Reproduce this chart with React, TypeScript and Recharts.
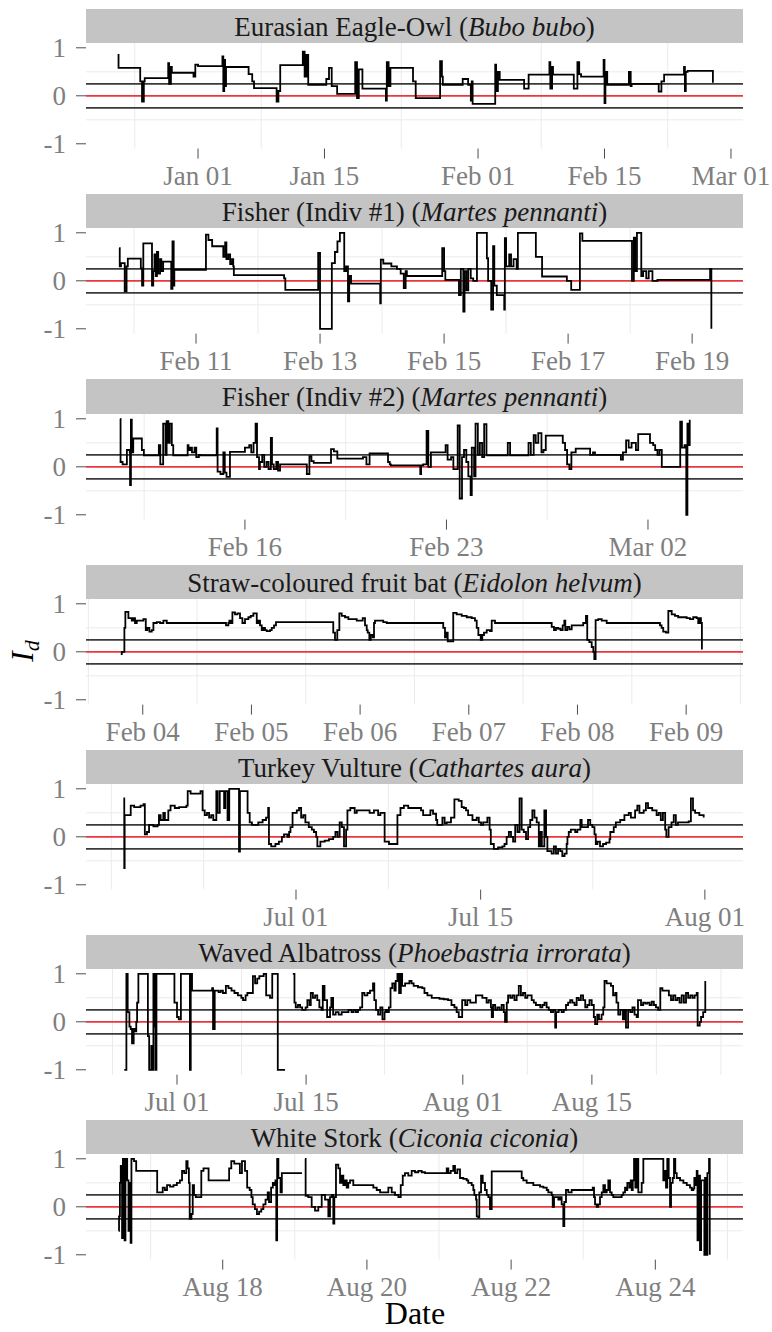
import React from 'react';
import { LineChart, Line, XAxis, YAxis, ReferenceLine } from 'recharts';

const FONT = '"Liberation Serif", "Times New Roman", serif';

type Pt = [number, number | null];

// Eurasian Eagle-Owl, x = days from Jan 01
const owlTicks = [0, 14, 31, 45, 59];
const owlLabels = ['Jan 01', 'Jan 15', 'Feb 01', 'Feb 15', 'Mar 01'];
const owlMinor = [-7, 7, 22.5, 38, 52];
const owlPoints: Pt[] = [
  [-8.9, 0.85], [-8.8, 0.58], [-6.4, 0.3], [-6.2, -0.12], [-6.0, 0.3], [-5.9, 0.37], [-3.3, 0.68], [-3.2, 0.25],
  [-3.0, 0.6], [-2.9, 0.48], [-0.5, 0.4], [-0.3, 0.65], [0, 0.62], [2.7, 0.82], [2.8, 0.1], [2.9, 0.75], [3.0, 0.2],
  [3.1, 0.6], [5.6, 0.45], [6.0, 0.3], [6.2, 0.16], [8.7, -0.12], [8.9, 0.1], [9.1, 0.64], [11.6, 0.92], [11.8, 0.4],
  [12.0, 0.85], [12.2, 0.23], [14.2, 0.35], [14.5, 0.58], [14.8, 0.2], [15.4, 0.04], [17.4, 0.7], [17.6, -0.05],
  [17.8, 0.55], [18.2, 0.15], [20.8, -0.1], [20.9, 0.7], [21.1, 0.2], [21.3, 0.58], [23.8, 0.3], [24.1, -0.05],
  [26.8, 0.72], [27.0, 0.4], [27.1, 0.23], [29.3, 0.35], [29.9, 0.23], [30.2, -0.1], [30.3, 0.3], [30.4, -0.17],
  [32.9, 0.65], [33.0, 0.1], [33.2, 0.5], [33.4, 0.33], [36.1, 0.15], [36.6, 0.44], [38.9, 0.7], [39.0, 0.15],
  [39.2, 0.6], [39.3, 0.44], [41.6, 0.15], [42.0, 0.7], [42.2, 0.45], [42.4, 0.4], [44.9, 0.75], [45.0, -0.15],
  [45.1, 0.5], [45.3, 0.23], [47.7, 0.5], [47.9, 0.2], [48.0, 0.25], [51.0, 0.09], [51.3, 0.3], [51.6, 0.44],
  [53.8, 0.6], [53.9, 0.1], [54.0, 0.5], [54.2, 0.52], [57.0, 0.27],
];

// Fisher #1, x = day of February
const fisher1Ticks = [11, 13, 15, 17, 19];
const fisher1Labels = ['Feb 11', 'Feb 13', 'Feb 15', 'Feb 17', 'Feb 19'];
const fisher1Minor = [10, 12, 14, 16, 18];
const fisher1Points: Pt[] = [
  [9.76, 0.68], [9.77, 0.3], [9.79, 0.37], [9.85, -0.22], [9.88, 0.3], [9.9, 0.46], [10.11, 0.26], [10.13, -0.1],
  [10.15, 0.78], [10.29, -0.1], [10.31, 0.2], [10.33, 0.55], [10.35, 0.1], [10.37, 0.6], [10.39, 0.15], [10.42, 0.45],
  [10.44, 0.2], [10.47, 0.4], [10.6, -0.17], [10.62, 0.82], [10.64, -0.1], [10.65, 0.23], [11.16, 0.96], [11.2, 0.85],
  [11.26, 0.72], [11.44, 0.5], [11.47, 0.8], [11.49, 0.45], [11.52, 0.55], [11.55, 0.35], [11.58, 0.45], [11.6, 0.3],
  [11.61, 0.12], [12.42, 0.05], [12.44, -0.19], [12.97, 0.58], [13.0, -1.0], [13.19, 0.37], [13.24, 0.6], [13.28, 0.82],
  [13.32, 1.0], [13.39, 0.2], [13.42, 0.3], [13.45, -0.43], [13.47, 0.1], [13.5, -0.06], [13.97, -0.47], [13.98, 0.44],
  [14.02, 0.36], [14.15, 0.3], [14.24, 0.25], [14.3, 0.15], [14.35, -0.15], [14.38, 0.2], [14.4, 0.1], [14.97, 0.68],
  [15.0, 0.2], [15.02, 0.02], [15.24, -0.3], [15.27, 0.25], [15.31, -0.64], [15.33, 0.2], [15.36, -0.2], [15.39, 0.25],
  [15.43, 0.05], [15.47, 0.0], [15.53, 1.0], [15.69, 0.47], [15.71, 0.0], [15.76, -0.6], [15.79, 0.72], [15.81, -0.1],
  [15.85, -0.3], [15.97, -0.6], [15.98, 0.89], [16.0, 0.3], [16.05, 0.55], [16.08, 0.3], [16.12, 0.45], [16.17, 0.25],
  [16.19, 1.0], [16.48, 0.5], [16.58, 0.09], [16.98, 0.0], [17.05, -0.19], [17.19, 0.99], [17.23, 0.83], [18.03, 0.0],
  [18.06, 0.9], [18.08, 0.2], [18.11, 1.0], [18.18, 0.1], [18.21, 0.2], [18.26, 0.05], [18.3, 0.2], [18.36, 0.0],
  [18.44, 0.02], [19.29, 0.25], [19.31, -1.0],
];

// Fisher #2, x = days from Feb 16
const fisher2Ticks = [0, 7, 14];
const fisher2Labels = ['Feb 16', 'Feb 23', 'Mar 02'];
const fisher2Minor = [-3.5, 3.5, 10.5];
const fisher2Points: Pt[] = [
  [-4.33, 1.0], [-4.32, 0.1], [-4.25, 0.05], [-4.1, 0.35], [-4.0, 0.3], [-3.99, -0.38], [-3.96, 0.98], [-3.93, 0.3],
  [-3.88, 0.59], [-3.58, 0.35], [-3.51, 0.24], [-2.99, 0.45], [-2.94, 0.05], [-2.84, 0.9], [-2.76, 0.25], [-2.72, 0.95],
  [-2.66, 0.5], [-2.61, 0.9], [-2.54, 0.45], [-2.49, 0.24], [-1.99, 0.45], [-1.96, 0.35], [-1.9, 0.4], [-1.84, 0.3],
  [-1.75, 0.4], [-1.69, 0.2], [-1.6, 0.25], [-1.54, 0.24], [-0.98, 0.8], [-0.95, -0.1], [-0.85, -0.15], [-0.75, 0.3],
  [-0.7, -0.12], [-0.64, -0.21], [-0.52, 0.31], [0, 0.4], [0.15, 0.45], [0.22, 0.3], [0.3, 0.5], [0.37, 0.9],
  [0.42, 0.2], [0.49, -0.05], [0.52, 0.1], [0.6, 0.25], [0.67, 0.0], [0.75, 0.1], [0.82, -0.05], [0.9, 0.6],
  [0.94, 0.05], [1.0, -0.05], [1.09, 0.1], [1.15, -0.08], [1.22, 0.05], [2.15, -0.15], [2.24, 0.22], [2.31, 0.12],
  [2.39, 0.08], [2.99, 0.37], [3.09, 0.32], [3.21, 0.17], [4.1, 0.2], [4.22, 0.05], [4.33, 0.28], [4.97, 0.1],
  [5.03, 0.05], [5.07, 0.03], [6.09, -0.15], [6.12, 0.03], [6.19, 0.05], [6.31, 0.75], [6.37, 0.0], [6.46, 0.3],
  [6.97, 0.45], [7.04, 0.15], [7.16, 0.2], [7.24, -0.05], [7.39, 0.86], [7.46, -0.66], [7.54, 0.2], [7.61, 0.35],
  [7.69, 0.1], [7.76, -0.2], [7.84, -0.59], [7.88, 0.4], [7.96, -0.2], [8.01, 0.9], [8.09, 0.25], [8.16, 0.5],
  [8.24, 0.2], [8.31, 0.89], [8.39, 0.24], [9.13, 0.5], [9.21, 0.24], [9.85, 0.5], [9.93, 0.25], [10.03, 0.66],
  [10.1, 0.5], [10.19, 0.7], [10.3, 0.3], [10.37, 0.35], [10.45, 0.65], [11.04, 0.5], [11.12, 0.35], [11.19, 0.05],
  [11.27, -0.05], [11.34, 0.3], [11.49, 0.38], [11.99, 0.25], [12.09, 0.3], [12.16, 0.25], [13.06, 0.15], [13.13, 0.3],
  [13.24, 0.55], [13.33, 0.4], [13.43, 0.5], [13.58, 0.35], [13.66, 0.68], [14.07, 0.5], [14.18, 0.45], [14.25, 0.35],
  [14.33, 0.25], [14.4, 0.35], [14.48, 0.0], [15.12, 0.94], [15.18, 0.4], [15.27, 0.45], [15.33, -1.0], [15.37, 0.9],
  [15.42, 0.45], [15.45, 0.98],
];

// Straw-coloured fruit bat, x = day of February
const batTicks = [4, 5, 6, 7, 8, 9];
const batLabels = ['Feb 04', 'Feb 05', 'Feb 06', 'Feb 07', 'Feb 08', 'Feb 09'];
const batMinor = [3.5, 4.5, 5.5, 6.5, 7.5, 8.5, 9.5];
const batPoints: Pt[] = [
  [3.798, -0.05], [3.807, 0.0], [3.831, 0.5], [3.84, 0.83], [3.868, 0.7], [3.899, 0.65], [3.914, 0.7], [3.929, 0.6],
  [3.945, 0.65], [4.006, 0.68], [4.028, 0.45], [4.042, 0.5], [4.061, 0.42], [4.083, 0.45], [4.098, 0.6], [4.129, 0.62],
  [4.159, 0.6], [4.19, 0.65], [4.221, 0.6], [4.766, 0.55], [4.788, 0.6], [4.797, 0.65], [4.812, 0.6], [4.825, 0.82],
  [4.849, 0.78], [4.871, 0.8], [4.895, 0.7], [4.917, 0.6], [4.941, 0.68], [4.972, 0.72], [4.994, 0.75], [5.018, 0.8],
  [5.049, 0.6], [5.064, 0.65], [5.079, 0.55], [5.095, 0.45], [5.11, 0.5], [5.125, 0.45], [5.141, 0.43], [5.171, 0.45],
  [5.187, 0.5], [5.208, 0.55], [5.226, 0.62], [5.753, 0.4], [5.769, 0.25], [5.79, 0.45], [5.809, 0.8], [5.831, 0.75],
  [5.861, 0.72], [5.892, 0.68], [5.969, 0.65], [6.024, 0.7], [6.045, 0.55], [6.061, 0.45], [6.07, 0.4], [6.085, 0.25],
  [6.098, 0.35], [6.116, 0.3], [6.128, 0.6], [6.137, 0.65], [6.213, 0.62], [6.245, 0.6], [6.765, 0.5], [6.781, 0.3],
  [6.797, 0.4], [6.806, 0.22], [6.857, 0.81], [6.888, 0.78], [6.935, 0.75], [6.981, 0.72], [7.027, 0.7], [7.057, 0.65],
  [7.073, 0.5], [7.088, 0.35], [7.11, 0.25], [7.124, 0.35], [7.14, 0.4], [7.165, 0.45], [7.195, 0.43], [7.211, 0.65],
  [7.241, 0.6], [7.763, 0.52], [7.784, 0.45], [7.802, 0.5], [7.823, 0.48], [7.845, 0.45], [7.864, 0.55], [7.879, 0.65],
  [7.888, 0.45], [7.906, 0.52], [7.925, 0.47], [7.947, 0.55], [8.053, 0.6], [8.078, 0.75], [8.09, 0.25], [8.109, 0.2],
  [8.131, 0.1], [8.146, 0.0], [8.155, -0.15], [8.167, 0.66], [8.191, 0.68], [8.223, 0.65], [8.269, 0.6], [8.759, 0.55],
  [8.774, 0.5], [8.789, 0.42], [8.814, 0.4], [8.836, 0.85], [8.867, 0.78], [8.897, 0.75], [8.927, 0.72], [9.005, 0.7],
  [9.035, 0.68], [9.065, 0.72], [9.097, 0.7], [9.111, 0.6], [9.127, 0.7], [9.136, 0.6], [9.145, 0.05],
];

// Turkey Vulture, x = days from Jul 01
const vultureTicks = [0, 14, 31];
const vultureLabels = ['Jul 01', 'Jul 15', 'Aug 01'];
const vultureMinor = [-14, -7, 7, 22.5];
const vulturePoints: Pt[] = [
  [-13.08, 0.8], [-13.02, -0.65], [-12.99, 0.45], [-12.53, 0.65], [-12.27, 0.62], [-11.79, 0.65], [-11.56, 0.68],
  [-11.46, 0.05], [-11.3, 0.1], [-11.14, 0.25], [-10.81, 0.22], [-10.49, 0.25], [-10.39, 0.45], [-10.26, 0.35],
  [-10.06, 0.5], [-9.94, 0.35], [-9.68, 0.55], [-9.51, 0.65], [-9.19, 0.6], [-8.86, 0.62], [-8.31, 0.65], [-8.21, 0.95],
  [-7.99, 0.9], [-7.24, 0.95], [-7.08, 0.55], [-6.92, 0.45], [-6.75, 0.5], [-6.59, 0.4], [-6.43, 0.45], [-6.27, 0.35],
  [-6.04, 0.95], [-5.94, 0.5], [-5.78, 0.95], [-5.45, 0.6], [-5.36, 0.95], [-5.19, 0.35], [-5.06, 1.0], [-4.32, -0.31],
  [-4.25, 0.95], [-3.67, 0.5], [-3.51, 0.3], [-3.34, 0.25], [-2.86, 0.3], [-2.53, 0.35], [-2.27, 0.4], [-2.11, 0.6],
  [-2.05, -0.15], [-1.88, -0.2], [-1.56, -0.15], [-1.3, -0.1], [-1.07, 0.0], [-0.91, 0.05], [-0.65, 0.0], [-0.52, 0.1],
  [-0.42, 0.2], [-0.26, 0.5], [0.06, 0.55], [0.23, 0.6], [0.39, 0.4], [0.55, 0.45], [0.71, 0.3], [0.97, 0.2],
  [1.2, 0.15], [1.36, 0.1], [1.53, 0.0], [1.62, -0.2], [1.85, -0.1], [2.18, -0.08], [2.5, -0.05], [2.82, 0.0],
  [2.99, 0.1], [3.15, 0.0], [3.31, 0.3], [3.47, 0.2], [3.64, -0.2], [3.8, 0.15], [3.9, 0.55], [4.12, 0.6], [4.45, 0.5],
  [4.61, 0.55], [5.58, 0.5], [5.91, 0.55], [6.23, 0.45], [6.4, 0.5], [6.72, -0.1], [7.05, -0.15], [7.69, 0.45],
  [7.92, 0.6], [8.18, 0.65], [8.51, 0.6], [9.48, 0.55], [9.64, 0.45], [10.19, 0.55], [10.39, 0.48], [10.62, 0.35],
  [10.71, 0.25], [11.1, 0.4], [11.27, 0.28], [11.43, 0.3], [11.75, 0.4], [12.01, 0.78], [12.34, 0.75], [12.56, 0.62],
  [12.73, 0.6], [12.89, 0.55], [13.05, 0.45], [13.38, 0.35], [13.7, 0.4], [13.86, 0.3], [14.03, 0.25], [14.19, 0.3],
  [14.51, 0.4], [14.68, 0.15], [14.77, -0.15], [15.0, -0.25], [15.32, -0.22], [15.65, -0.2], [15.81, -0.15],
  [15.97, 0.0], [16.14, 0.1], [16.3, 0.0], [16.46, -0.1], [16.62, 0.25], [16.79, 0.1], [16.95, 0.8], [17.11, 0.15],
  [17.27, 0.1], [17.44, -0.05], [17.6, 0.2], [17.76, 0.35], [17.92, 0.55], [18.08, 0.4], [18.25, 0.3], [18.41, -0.2],
  [18.51, 0.1], [18.64, -0.2], [18.83, 0.55], [18.96, 0.0], [19.06, -0.3], [19.38, -0.35], [19.55, -0.2],
  [19.71, -0.35], [19.87, -0.25], [20.03, -0.3], [20.19, -0.4], [20.36, -0.35], [20.52, -0.15], [20.58, 0.0],
  [20.68, 0.1], [20.84, 0.15], [21.17, 0.1], [21.33, 0.15], [21.56, 0.35], [21.66, 0.2], [22.14, 0.35], [22.31, 0.25],
  [22.47, 0.2], [22.63, 0.05], [22.73, -0.15], [22.86, -0.1], [23.05, -0.2], [23.28, -0.15], [23.51, -0.12],
  [23.77, -0.05], [23.83, 0.1], [24.09, 0.2], [24.25, 0.3], [24.58, 0.35], [24.9, 0.45], [25.23, 0.5], [25.39, 0.4],
  [25.71, 0.55], [25.88, 0.65], [26.04, 0.5], [26.36, 0.55], [26.53, 0.7], [26.69, 0.6], [27.01, 0.55], [27.34, 0.45],
  [27.5, 0.5], [27.66, 0.35], [27.82, 0.5], [27.99, 0.15], [28.08, 0.0], [28.25, 0.2], [28.47, 0.3], [28.64, 0.45],
  [28.8, 0.25], [28.96, 0.3], [29.77, 0.32], [29.94, 0.8], [30.1, 0.55], [30.26, 0.5], [30.58, 0.45], [30.91, 0.4],
];

// Waved Albatross, x = days from Jul 01
const albatrossTicks = [0, 14, 31, 45];
const albatrossLabels = ['Jul 01', 'Jul 15', 'Aug 01', 'Aug 15'];
const albatrossMinor = [-7, 7, 22.5, 38, 52, 59];
const albatrossPoints: Pt[] = [
  [-5.72, -1.0], [-5.49, 1.0], [-5.35, 0.2], [-5.16, -0.1], [-5.02, -0.15], [-4.88, -0.45], [-4.7, -0.15],
  [-4.56, -0.2], [-4.42, 0.0], [-4.33, 0.4], [-4.19, 1.0], [-3.16, -0.3], [-3.02, -1.0], [-2.79, -0.5], [-2.7, -1.0],
  [-2.56, 1.0], [-2.42, -0.1], [-2.33, -1.0], [-2.23, 1.0], [-0.28, 0.4], [0, 0.1], [0.19, 0.05], [0.42, 1.0],
  [1.4, -1.0], [1.49, 1.0], [1.63, 0.65], [3.81, 0.7], [3.91, -0.15], [4.09, 0.65], [4.51, 0.62], [4.74, 0.65],
  [4.98, 0.6], [5.3, 0.75], [5.58, 0.7], [5.91, 0.65], [6.23, 0.6], [6.6, 0.55], [6.98, 0.5], [7.16, 0.45],
  [7.44, 0.55], [7.63, 0.6], [8.23, 0.95], [8.47, 0.8], [8.7, 0.9], [8.93, 0.95], [9.4, 1.0], [9.67, 0.55],
  [10.09, 0.5], [10.33, 1.0], [10.93, -1.0], [11.72, -1.0], [12.0, null], [12.56, 1.0], [12.74, 0.4], [12.88, 0.3],
  [13.12, 0.35], [13.35, 0.3], [13.58, 0.25], [13.95, 0.3], [14.14, 0.45], [14.37, 0.35], [14.51, 0.6], [14.74, 0.5],
  [14.98, 0.55], [15.21, 0.45], [15.44, 0.3], [15.67, 0.25], [15.81, 0.75], [16.0, 0.45], [16.28, 0.1], [16.6, 0.3],
  [16.74, 0.5], [16.93, 0.15], [17.21, 0.2], [17.53, 0.15], [17.86, 0.2], [18.6, 0.25], [18.93, 0.2], [19.16, 0.25],
  [19.4, 0.2], [19.63, 0.25], [19.86, 0.3], [20.09, 0.6], [20.33, 0.55], [20.65, 0.6], [20.93, 0.65], [21.26, 0.8],
  [21.4, 0.45], [21.58, 0.25], [21.81, 0.15], [22.05, 0.3], [22.28, 0.05], [22.51, 0.2], [22.65, 0.25], [22.79, 0.2],
  [22.98, 0.3], [23.16, 0.7], [23.35, 0.8], [23.58, 0.65], [23.72, 0.85], [23.91, 1.0], [24.09, 0.6], [24.28, 1.0],
  [24.42, 0.75], [24.74, 0.8], [25.21, 0.85], [25.44, 0.8], [25.67, 0.75], [26.14, 0.72], [26.6, 0.7], [26.84, 0.6],
  [27.16, 0.55], [27.63, 0.5], [28.47, 0.48], [28.93, 0.47], [29.4, 0.45], [29.77, 0.35], [30.09, 0.3], [30.33, 0.2],
  [30.56, 0.1], [30.93, 0.45], [31.26, 0.35], [31.49, 0.45], [31.81, 0.4], [32.42, 0.55], [33.12, 0.5], [33.58, 0.4],
  [33.81, 0.45], [34.05, 0.3], [34.14, 0.1], [34.28, 0.35], [34.51, 0.25], [34.74, 0.3], [34.98, 0.25], [35.21, 0.35],
  [35.44, 0.2], [35.58, 0.0], [35.77, 0.4], [35.91, 0.55], [36.14, 0.5], [36.37, 0.55], [36.6, 0.45], [36.84, 0.55],
  [37.07, 0.75], [37.3, 0.55], [37.53, 0.6], [37.77, 0.5], [38.0, 0.55], [38.47, 0.45], [38.7, 0.4], [38.93, 0.35],
  [39.4, 0.3], [39.63, 0.35], [39.86, 0.4], [40.09, 0.3], [40.33, 0.25], [40.56, 0.2], [40.79, 0.25], [41.02, -0.12],
  [41.12, 0.2], [41.4, 0.25], [41.72, 0.2], [41.95, 0.25], [42.19, 0.35], [42.42, 0.4], [42.65, 0.45], [42.88, 0.4],
  [43.12, 0.35], [43.35, 0.5], [43.58, 0.45], [43.81, 0.55], [44.05, 0.45], [44.28, 0.3], [44.51, 0.35], [44.74, 0.45],
  [44.98, 0.35], [45.21, 0.1], [45.35, -0.05], [45.58, 0.15], [45.77, 0.05], [46.05, 0.15], [46.23, 0.3], [46.37, 0.85],
  [46.6, 0.8], [47.07, 0.75], [47.3, 0.55], [47.53, 0.6], [47.67, 0.4], [47.86, 0.15], [48.09, 0.25], [48.37, 0.05],
  [48.56, 0.25], [48.7, -0.12], [48.93, 0.25], [49.16, 0.2], [49.4, 0.3], [49.63, 0.15], [49.86, 0.1], [50.0, 0.45],
  [50.33, 0.35], [50.56, 0.4], [50.79, 0.38], [51.02, 0.4], [51.26, 0.35], [51.49, 0.42], [51.72, 0.35], [51.95, 0.3],
  [52.19, 0.25], [52.42, 0.7], [52.65, 0.65], [53.35, 0.55], [53.58, 0.45], [53.81, 0.55], [54.05, 0.45], [54.28, 0.5],
  [54.51, 0.4], [54.74, 0.55], [54.98, 0.4], [55.21, 0.6], [55.44, 0.5], [55.67, 0.55], [55.91, 0.5], [56.14, 0.55],
  [56.37, 0.6], [56.47, -0.08], [56.7, 0.0], [56.84, 0.1], [57.07, 0.2], [57.3, 0.85],
];

// White Stork, x = day of August
const storkTicks = [18, 20, 22, 24];
const storkLabels = ['Aug 18', 'Aug 20', 'Aug 22', 'Aug 24'];
const storkMinor = [17, 19, 21, 23, 25];
const storkPoints: Pt[] = [
  [16.556, -0.5], [16.562, -0.2], [16.574, 0.5], [16.586, 0.85], [16.604, -0.65], [16.616, 1.0], [16.627, 0.5],
  [16.639, -0.7], [16.651, 1.0], [16.675, 0.55], [16.693, -0.5], [16.711, 0.5], [16.723, -0.75], [16.734, 1.0],
  [16.77, 0.95], [16.8, 0.75], [17.091, 0.3], [17.168, 0.4], [17.198, 0.35], [17.228, 0.45], [17.269, 0.42],
  [17.317, 0.45], [17.364, 0.5], [17.406, 0.55], [17.436, 0.75], [17.465, 0.7], [17.495, 0.95], [17.513, 0.8],
  [17.531, 0.5], [17.542, -0.25], [17.566, -0.15], [17.584, 0.45], [17.602, 0.25], [17.626, 0.2], [17.703, 0.75],
  [17.733, 0.8], [17.804, 0.55], [18.089, 0.8], [18.119, 0.95], [18.16, 0.9], [18.238, 0.7], [18.267, 0.95],
  [18.309, 0.75], [18.339, 0.4], [18.374, 0.35], [18.398, 0.2], [18.416, 0.05], [18.446, -0.05], [18.475, -0.15],
  [18.505, -0.1], [18.535, -0.05], [18.564, 0.05], [18.594, 0.15], [18.624, 0.3], [18.642, 0.1], [18.671, 0.4],
  [18.695, 0.5], [18.713, 0.45], [18.731, 0.55], [18.743, -0.7], [18.755, 1.0], [18.772, 0.6], [18.802, 0.3],
  [18.82, 0.7], [19.099, 0.7], [19.12, null], [19.141, 1.0], [19.15, 0.23], [19.187, 0.2], [19.234, 0.0],
  [19.28, -0.08], [19.326, 0.0], [19.373, 0.25], [19.419, 0.15], [19.465, -0.2], [19.488, 0.2], [19.512, 0.25],
  [19.534, -0.35], [19.548, 0.2], [19.571, 0.88], [19.603, 0.8], [19.627, 0.5], [19.65, 0.65], [19.673, 0.45],
  [19.696, 0.55], [19.72, 0.4], [19.742, 0.5], [19.766, 0.55], [19.811, 0.45], [20.089, 0.4], [20.136, 0.35],
  [20.182, 0.3], [20.297, 0.4], [20.344, 0.3], [20.39, 0.25], [20.436, 0.2], [20.469, 0.45], [20.497, 0.65],
  [20.528, 0.7], [20.574, 0.65], [20.621, 0.75], [20.667, 0.72], [20.713, 0.75], [20.76, 0.72], [20.806, 0.7],
  [21.107, 0.8], [21.129, 0.7], [21.162, 0.75], [21.198, 0.85], [21.222, 0.7], [21.254, 0.78], [21.291, 0.6],
  [21.337, 0.58], [21.384, 0.55], [21.406, 0.5], [21.453, 0.45], [21.476, 0.35], [21.49, 0.25], [21.513, 0.15],
  [21.523, -0.2], [21.545, -0.22], [21.559, 0.3], [21.583, 0.65], [21.606, 0.5], [21.638, 0.35], [21.662, 0.25],
  [21.684, 0.2], [21.707, -0.05], [21.731, 0.74], [22.147, 0.6], [22.169, 0.55], [22.216, 0.5], [22.308, 0.45],
  [22.401, 0.42], [22.447, 0.4], [22.494, 0.35], [22.516, 0.3], [22.563, 0.25], [22.577, 0.0], [22.595, 0.2],
  [22.655, 0.15], [22.678, 0.2], [22.701, 0.05], [22.724, -0.4], [22.738, 0.1], [22.761, 0.35], [22.793, 0.3],
  [22.84, 0.35], [23.132, 0.4], [23.15, 0.2], [23.164, 0.05], [23.187, 0.0], [23.209, 0.05], [23.233, 0.2],
  [23.257, 0.3], [23.279, 0.45], [23.302, 0.3], [23.326, 0.35], [23.348, 0.55], [23.372, 0.3], [23.395, 0.25],
  [23.417, 0.2], [23.534, 0.25], [23.556, 0.3], [23.58, 0.4], [23.594, 0.35], [23.612, 0.5], [23.64, 0.4],
  [23.659, 0.55], [23.673, 0.35], [23.687, 0.55], [23.705, 1.0], [23.723, 0.4], [23.742, 1.0], [23.764, 0.3],
  [23.811, 0.5], [23.834, 1.0], [24.111, 0.55], [24.125, 0.75], [24.148, 0.4], [24.166, 1.0], [24.186, 0.6],
  [24.204, 0.0], [24.218, 0.5], [24.241, 0.6], [24.259, 1.0], [24.277, 0.7], [24.297, 0.6], [24.343, 0.55],
  [24.389, 0.5], [24.436, 0.45], [24.481, 0.4], [24.505, 0.35], [24.527, 0.38], [24.541, 0.6], [24.555, 0.45],
  [24.574, 0.75], [24.585, -0.7], [24.6, 0.65], [24.62, -0.9], [24.635, 0.55], [24.68, -1.0], [24.69, 0.6],
  [24.713, -1.0], [24.722, 0.7], [24.745, 1.0], [24.755, -1.0],
];

const yTicks = [-1, 0, 1];
const thresholds = [-0.25, 0.25];
const yMinor = [-0.5, 0.5];

const panels = [
  { title: 'Eurasian Eagle-Owl', latin: 'Bubo bubo', points: owlPoints, ticks: owlTicks, labels: owlLabels, minor: owlMinor, domain: [-12.4, 60.33] },
  { title: 'Fisher (Indiv #1)', latin: 'Martes pennanti', points: fisher1Points, ticks: fisher1Ticks, labels: fisher1Labels, minor: fisher1Minor, domain: [9.226, 19.82] },
  { title: 'Fisher (Indiv #2)', latin: 'Martes pennanti', points: fisher2Points, ticks: fisher2Ticks, labels: fisher2Labels, minor: fisher2Minor, domain: [-5.52, 17.3] },
  { title: 'Straw-coloured fruit bat', latin: 'Eidolon helvum', points: batPoints, ticks: batTicks, labels: batLabels, minor: batMinor, domain: [3.478, 9.523] },
  { title: 'Turkey Vulture', latin: 'Cathartes aura', points: vulturePoints, ticks: vultureTicks, labels: vultureLabels, minor: vultureMinor, domain: [-15.92, 33.89] },
  { title: 'Waved Albatross', latin: 'Phoebastria irrorata', points: albatrossPoints, ticks: albatrossTicks, labels: albatrossLabels, minor: albatrossMinor, domain: [-9.87, 61.39] },
  { title: 'White Stork', latin: 'Ciconia ciconia', points: storkPoints, ticks: storkTicks, labels: storkLabels, minor: storkMinor, domain: [16.104, 25.216] },
];

const LEFT = 86;
const RIGHT = 743;
const STEP = 185.17;
const STRIP_TOP = 9;
const STRIP_H = 34.2;
const PLOT_H = 105.6;
const AXIS_H = 48;
const PAD_TOP = 16;
const FS = 27;

const tickStyle = { fill: '#7f7f7f', fontSize: FS, fontFamily: FONT };

const Panel = ({ p, i }: { p: any; i: number }) => {
  const top = STRIP_TOP + STEP * i;
  const data = p.points.map(([x, y]: Pt) => ({ x, y }));
  return (
    <>
      <div
        style={{
          position: 'absolute', left: LEFT, top, width: RIGHT - LEFT, height: STRIP_H,
          background: '#c4c4c4', color: '#1a1a1a', fontFamily: FONT, fontSize: FS,
          lineHeight: `${STRIP_H}px`, textAlign: 'center', paddingTop: 1, boxSizing: 'border-box', whiteSpace: 'nowrap',
        }}
      >
        {p.title} (<i>{p.latin}</i>)
      </div>
      <div style={{ position: 'absolute', left: 0, top: top + STRIP_H - PAD_TOP }}>
        <LineChart
          width={772} height={PAD_TOP + PLOT_H + AXIS_H} data={data}
          margin={{ top: PAD_TOP, right: 772 - RIGHT, bottom: 0, left: 0 }}
        >
          <XAxis
            type="number" dataKey="x" domain={p.domain} allowDataOverflow ticks={p.ticks} interval={0}
            tickFormatter={(v: number) => p.labels[p.ticks.indexOf(v)]}
            axisLine={false} tickSize={10} tickMargin={7} tickLine={{ stroke: '#4d4d4d' }} tick={tickStyle} height={AXIS_H}
          />
          <YAxis
            type="number" domain={[-1.1, 1.1]} allowDataOverflow ticks={yTicks} interval={0} width={LEFT}
            axisLine={false} tickSize={10} tickMargin={10} tickLine={{ stroke: '#4d4d4d' }} tick={tickStyle}
          />
          {p.minor.map((v: number) => (
            <ReferenceLine key={`mx${v}`} x={v} stroke="#ebebeb" strokeWidth={1} />
          ))}
          {yMinor.map((v) => (
            <ReferenceLine key={`my${v}`} y={v} stroke="#ebebeb" strokeWidth={1} />
          ))}
          {thresholds.map((v) => (
            <ReferenceLine key={`t${v}`} y={v} stroke="#3a3a3a" strokeWidth={1.7} />
          ))}
          <ReferenceLine y={0} stroke="#e8383d" strokeWidth={1.7} />
          <Line
            type="stepAfter" dataKey="y" stroke="#000" strokeWidth={1.8} dot={false}
            isAnimationActive={false} connectNulls={false}
          />
        </LineChart>
      </div>
    </>
  );
};

export default function App() {
  return (
    <div style={{ position: 'absolute', left: 0, top: 0, width: 772, height: 1332, background: '#fff' }}>
      {panels.map((p, i) => (
        <Panel key={i} p={p} i={i} />
      ))}
      <svg width={772} height={1332} style={{ position: 'absolute', left: 0, top: 0, pointerEvents: 'none' }}>
        <text x={415} y={1324} textAnchor="middle" fontFamily={FONT} fontSize={32} fill="#000">
          Date
        </text>
        <text transform="translate(33,651) rotate(-90)" textAnchor="middle" fontFamily={FONT} fontSize={31} fontStyle="italic" fill="#000">
          I<tspan fontSize={22} dy={6}>d</tspan>
        </text>
      </svg>
    </div>
  );
}
